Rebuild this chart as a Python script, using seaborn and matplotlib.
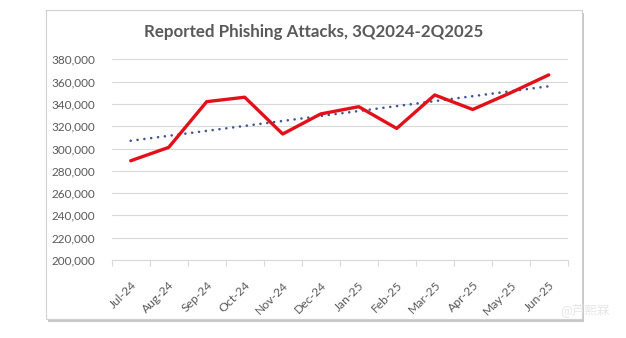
import numpy as np
import pandas as pd
import seaborn as sns
import matplotlib
matplotlib.use("Agg")
import matplotlib.pyplot as plt
from matplotlib.patches import Rectangle
from matplotlib.ticker import FuncFormatter, MultipleLocator, FixedLocator

months = ["Jul-24", "Aug-24", "Sep-24", "Oct-24", "Nov-24", "Dec-24",
          "Jan-25", "Feb-25", "Mar-25", "Apr-25", "May-25", "Jun-25"]
attacks = [289000, 301000, 342000, 346000, 313000, 331000,
           337500, 318000, 348000, 335000, 350000, 366000]
title = "Reported Phishing Attacks, 3Q2024-2Q2025"

df = pd.DataFrame({"idx": np.arange(len(months)), "month": months, "attacks": attacks})

sns.set_theme(style="white")
plt.rcParams["font.family"] = ["Lato", "DejaVu Sans"]

W, H = 626, 338
fig = plt.figure(figsize=(W / 100, H / 100), dpi=100)
fig.patch.set_facecolor("white")

# chart frame with shadow
fx0, fy0, fx1, fy1 = 46, 9.5, 581.5, 319
fig.patches.append(Rectangle(((fx0 + 2.5) / W, 1 - (fy1 + 3) / H), (fx1 - fx0) / W, (fy1 - fy0) / H,
                             transform=fig.transFigure, facecolor="#c8c8c8", edgecolor="none", zorder=-3))
fig.patches.append(Rectangle((fx0 / W, 1 - fy1 / H), (fx1 - fx0) / W, (fy1 - fy0) / H,
                             transform=fig.transFigure, facecolor="white", edgecolor="#d0d0d0",
                             linewidth=0.8, zorder=-2))

left, right, top, bottom = 111.7, 567.7, 59.3, 260
ax = fig.add_axes([left / W, 1 - bottom / H, (right - left) / W, (bottom - top) / H])
ax.set_facecolor("none")

sns.regplot(data=df, x="idx", y="attacks", ax=ax, scatter=False, ci=None, truncate=True,
            line_kws=dict(color="#3f5596", linestyle=(0, (0.01, 2.6)), linewidth=1.9,
                          dash_capstyle="round", zorder=3))
sns.lineplot(data=df, x="idx", y="attacks", ax=ax, color="#e3101a", linewidth=2.4, zorder=4)

ax.set_xlim(-0.5, len(months) - 0.5)
ax.set_ylim(200000, 380000)
ax.yaxis.set_major_locator(MultipleLocator(20000))
ax.yaxis.set_major_formatter(FuncFormatter(lambda v, p: f"{int(v):,}"))
ax.grid(axis="y", color="#d9d9d9", linewidth=0.8)
ax.set_axisbelow(True)

ax.set_xticks(np.arange(len(months)))
ax.set_xticklabels(months, rotation=45, ha="right", rotation_mode="anchor")
ax.xaxis.set_minor_locator(FixedLocator(np.arange(-0.5, len(months), 1.0)))
ax.tick_params(axis="x", which="major", length=0, pad=14, labelsize=8.7, labelcolor="#595959")
ax.tick_params(axis="x", which="minor", length=4, width=0.8, color="#d9d9d9", bottom=True)
ax.tick_params(axis="y", length=0, pad=12, labelsize=8.5, labelcolor="#595959")
ax.set_xlabel("")
ax.set_ylabel("")
for s in ["top", "right", "left"]:
    ax.spines[s].set_visible(False)
ax.spines["bottom"].set_color("#d9d9d9")
ax.spines["bottom"].set_linewidth(0.8)

fig.text(313.5 / W, 1 - 32 / H, title, ha="center", va="center", fontsize=12.2,
         fontweight="bold", color="#595959")

fig.text(585 / W, 1 - 310 / H, "@芦熙槑", ha="center", va="center", fontsize=9,
         color="#e6e6e6", family=["Noto Sans CJK SC", "DejaVu Sans"])

fig.savefig("out.png", dpi=100, facecolor="white")
